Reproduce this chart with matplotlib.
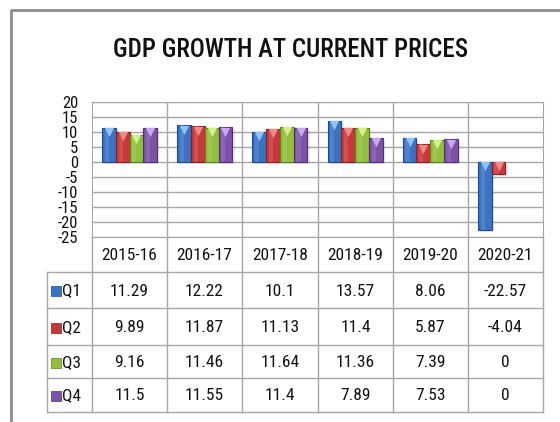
import numpy as np
import matplotlib
matplotlib.use('Agg')
import matplotlib.pyplot as plt
from matplotlib import transforms

plt.rcParams['font.family'] = ['Roboto Condensed', 'DejaVu Sans']
plt.rcParams['axes.unicode_minus'] = False

years = ['2015-16', '2016-17', '2017-18', '2018-19', '2019-20', '2020-21']
quarters = ['Q1', 'Q2', 'Q3', 'Q4']
q1 = [11.29, 12.22, 10.1, 13.57, 8.06, -22.57]
q2 = [9.89, 11.87, 11.13, 11.4, 5.87, -4.04]
q3 = [9.16, 11.46, 11.64, 11.36, 7.39, 0]
q4 = [11.5, 11.55, 11.4, 7.89, 7.53, 0]
series = [q1, q2, q3, q4]

colors = ['#3a72c4', '#c8383a', '#92bf3c', '#7b52a8']
edges = ['#1f4a8a', '#8a1e20', '#5f8222', '#4f2f78']
tops = ['#8fc3f5', '#f08a8a', '#d6f08a', '#c9a8f0']

W, H = 560, 422
fig = plt.figure(figsize=(W / 100, H / 100), dpi=100)

# overlay in pixel coords for frame and data table
ov = fig.add_axes([0, 0, 1, 1])
ov.set_xlim(0, W)
ov.set_ylim(H, 0)
ov.axis('off')

grid_c = '#a6a6a6'
ov.plot([11, 11, W], [H, 10, 10], color='#8c8c8c', lw=2)

# plot area
left, right, top, bottom = 92, 543, 102, 237
ax = fig.add_axes([left / W, (H - bottom) / H, (right - left) / W, (bottom - top) / H])
ax.set_xlim(0, 6)
ax.set_ylim(-25, 20)
ax.set_yticks(np.arange(-25, 21, 5))
ax.set_xticks([])
ax.tick_params(axis='y', length=0, pad=10, labelsize=12, labelcolor='#111111')
for s in ax.spines.values():
    s.set_color(grid_c)
ax.grid(axis='y', color=grid_c, lw=1)
for k in range(1, 6):
    ax.axvline(k, color=grid_c, lw=1, zorder=1)
ax.set_axisbelow(True)

x = np.arange(len(years))
bw = 0.183
for i, vals in enumerate(series):
    xs = x + 0.5 + (i - 1.5) * bw
    vals = np.array(vals)
    nz = vals != 0
    # soft shadow, bar body, lighter bevel strip and top highlight
    ax.bar(xs[nz] + 0.03, vals[nz], bw, bottom=-0.6, color='#000000', alpha=0.08, zorder=2, lw=0)
    ax.bar(xs[nz], vals[nz], bw, color=colors[i], edgecolor=edges[i], lw=0.8, zorder=3)
    ax.bar(xs[nz] - bw * 0.15, vals[nz], bw * 0.3, color='white', alpha=0.12, zorder=3, lw=0)
    tr = transforms.offset_copy(ax.transData, fig=fig, x=0, y=-3, units='points')
    ax.scatter(xs[nz], np.maximum(vals[nz], 0), marker='v', s=45, color=tops[i],
               transform=tr, zorder=4, lw=0)

# title
ov.text(291, 50, 'GDP GROWTH AT CURRENT PRICES', ha='center', va='center',
        fontsize=18, weight='medium', color='#111111')

# data table
col_x = [92, 167, 242, 318, 393, 468, 543]
row_y = [237, 272, 308, 345, 378, 412]
for cx in col_x:
    ov.plot([cx, cx], [bottom, row_y[-1]], color=grid_c, lw=1)
ov.plot([47, 47], [row_y[1], row_y[-1]], color=grid_c, lw=1)
for ry in row_y[1:]:
    ov.plot([47, 543], [ry, ry], color=grid_c, lw=1)

for j, yr in enumerate(years):
    ov.text((col_x[j] + col_x[j + 1]) / 2, (row_y[0] + row_y[1]) / 2 + 1, yr,
            ha='center', va='center', fontsize=12.5, color='#111111')
for i, vals in enumerate(series):
    cy = (row_y[i + 1] + row_y[i + 2]) / 2 + 1
    ov.scatter([56], [cy], marker='s', s=45, color=colors[i], edgecolor=edges[i], lw=0.5)
    ov.text(62, cy, quarters[i], ha='left', va='center', fontsize=12.5, color='#111111')
    for j, v in enumerate(vals):
        ov.text((col_x[j] + col_x[j + 1]) / 2, cy, f'{v:g}', ha='center', va='center',
                fontsize=12.5, color='#111111')

fig.savefig('out.png', dpi=100)
